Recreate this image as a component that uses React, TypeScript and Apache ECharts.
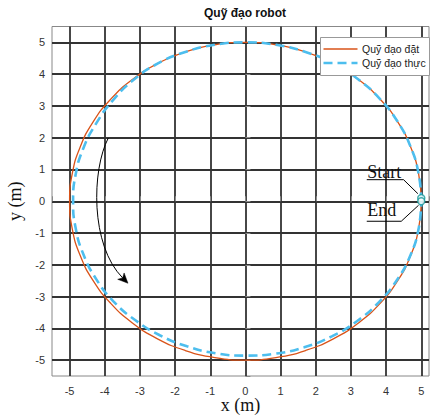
import React, { useEffect, useRef } from "react";
import * as echarts from "echarts";

// Reference trajectory ("Quỹ đạo đặt"), read every 10°
const refX = [5, 4.924, 4.698, 4.33, 3.83, 3.214, 2.5, 1.71, 0.868, 0, -0.868, -1.71, -2.5, -3.214, -3.83, -4.33, -4.698, -4.924, -5, -4.924, -4.698, -4.33, -3.83, -3.214, -2.5, -1.71, -0.868, 0, 0.868, 1.71, 2.5, 3.214, 3.83, 4.33, 4.698, 4.924, 5];
const refY = [0, 0.868, 1.71, 2.5, 3.214, 3.83, 4.33, 4.698, 4.924, 5, 4.924, 4.698, 4.33, 3.83, 3.214, 2.5, 1.71, 0.868, 0, -0.868, -1.71, -2.5, -3.214, -3.83, -4.33, -4.698, -4.924, -5, -4.924, -4.698, -4.33, -3.83, -3.214, -2.5, -1.71, -0.868, 0];

// Actual trajectory ("Quỹ đạo thực")
const actX = [5, 4.924, 4.698, 4.33, 3.83, 3.214, 2.5, 1.71, 0.868, 0, -0.868, -1.71, -2.5, -3.195, -3.776, -4.243, -4.605, -4.826, -4.9, -4.826, -4.605, -4.243, -3.753, -3.137, -2.435, -1.662, -0.844, 0, 0.845, 1.672, 2.455, 3.169, 3.792, 4.304, 4.689, 4.924, 5];
const actY = [0, 0.868, 1.71, 2.5, 3.214, 3.83, 4.33, 4.698, 4.924, 5, 4.924, 4.698, 4.33, 3.807, 3.169, 2.45, 1.676, 0.851, 0, -0.851, -1.676, -2.45, -3.15, -3.738, -4.217, -4.567, -4.786, -4.86, -4.796, -4.595, -4.252, -3.776, -3.182, -2.485, -1.707, -0.868, 0];

const startPoint = [5, 0.1];
const endPoint = [5, 0];

const seriesNames = ["Quỹ đạo đặt", "Quỹ đạo thực"];
const titleText = "Quỹ đạo robot";
const xName = "x (m)";
const yName = "y (m)";
const startLabel = "Start";
const endLabel = "End";

const zip = (xs: number[], ys: number[]) => xs.map((x, i) => [x, ys[i]]);

const SANS = "Liberation Sans, Arial, sans-serif";
const SERIF = "Liberation Serif, Times New Roman, serif";
const REF_COLOR = "#D95319";
const ACT_COLOR = "#4DBEEE";
const ACT_DASH = [9, 5];

export default function App() {
  const ref = useRef<HTMLDivElement>(null);
  useEffect(() => {
    if (!ref.current) return;
    const chart = echarts.init(ref.current, undefined, { renderer: "svg" });
    const axisCommon = {
      type: "value" as const,
      axisLine: { show: false },
      axisTick: { show: true, inside: true, length: 5, lineStyle: { color: "#888" } },
      axisLabel: {
        fontFamily: SANS,
        fontSize: 11,
        color: "#333",
        formatter: (v: number) => (Math.abs(v - Math.round(v)) < 1e-6 ? String(Math.round(v)) : ""),
      },
      splitLine: { show: true, showMinLine: false, showMaxLine: false, lineStyle: { color: "#333", width: 1.8 } },
      nameLocation: "middle" as const,
      nameTextStyle: { fontFamily: SERIF, fontSize: 18, color: "#111" },
    };
    chart.setOption({
      animation: false,
      backgroundColor: "#fff",
      grid: {
        left: 52,
        right: 7,
        top: 26.5,
        bottom: 41,
        show: true,
        borderColor: "#888",
        borderWidth: 1,
        backgroundColor: "#fff",
        containLabel: false,
        outerBoundsMode: "none",
      },
      xAxis: {
        ...axisCommon,
        min: -5.5,
        max: 5.22,
        splitNumber: 10,
        name: xName,
        nameGap: 20,
        nameMoveOverlap: false,
        axisLabel: { ...axisCommon.axisLabel, margin: 9 },
      },
      yAxis: { ...axisCommon, min: -5.5, max: 5.5, splitNumber: 11, name: yName, nameGap: 26, axisLabel: { ...axisCommon.axisLabel, margin: 7 } },
      series: [
        {
          name: seriesNames[0],
          type: "line",
          data: zip(refX, refY),
          smooth: true,
          showSymbol: false,
          symbol: "none",
          lineStyle: { color: REF_COLOR, width: 1.3 },
          itemStyle: { color: REF_COLOR },
        },
        {
          name: seriesNames[1],
          type: "line",
          data: zip(actX, actY),
          smooth: true,
          showSymbol: false,
          symbol: "none",
          lineStyle: { color: ACT_COLOR, width: 2.6, type: ACT_DASH },
          itemStyle: { color: ACT_COLOR },
        },
        {
          name: "points",
          type: "scatter",
          data: [startPoint, endPoint],
          symbol: "circle",
          symbolSize: 7,
          itemStyle: { color: "#fff", borderColor: "#17999a", borderWidth: 1.5 },
          z: 5,
        },
      ],
    });

    const toPx = (p: number[]) => chart.convertToPixel({ gridIndex: 0 }, p) as number[];
    const S = toPx(startPoint);
    const E = toPx(endPoint);
    const a0 = toPx([-3.9, 1.99]);
    const a1 = toPx([-4.37, 0.99]);
    const a2 = toPx([-4.42, -1.38]);
    const a3 = toPx([-3.34, -2.58]);
    let dx = a3[0] - a2[0];
    let dy = a3[1] - a2[1];
    const dl = Math.hypot(dx, dy);
    dx /= dl;
    dy /= dl;
    const L = 10;
    const W = 4.5;
    const bx = a3[0] - dx * L;
    const by = a3[1] - dy * L;
    const nx = -dy;
    const ny = dx;
    const notch = [a3[0] - dx * L * 0.75, a3[1] - dy * L * 0.75];

    const lineStyle = { stroke: "#000", lineWidth: 1, fill: "none" };
    const lg = { x: 320.5, y: 37.5, w: 109, h: 38 };
    chart.setOption({
      graphic: [
        {
          type: "text",
          x: 245,
          y: 7,
          style: { text: titleText, font: `bold 12px ${SANS}`, fill: "#111", align: "center", verticalAlign: "top" },
        },
        {
          type: "bezierCurve",
          shape: { x1: a0[0], y1: a0[1], cpx1: a1[0], cpy1: a1[1], cpx2: a2[0], cpy2: a2[1], x2: notch[0], y2: notch[1] },
          style: lineStyle,
          z: 10,
        },
        {
          type: "polygon",
          shape: { points: [[a3[0], a3[1]], [bx + nx * W, by + ny * W], notch, [bx - nx * W, by - ny * W]] },
          style: { fill: "#000", stroke: "#000", lineWidth: 0.5 },
          z: 10,
        },
        {
          type: "text",
          x: S[0] - 54,
          y: S[1] - 26,
          style: { text: startLabel, font: `18px ${SERIF}`, fill: "#111", align: "left", verticalAlign: "middle" },
          z: 10,
        },
        {
          type: "polyline",
          shape: { points: [[S[0] - 54.5, S[1] - 18.4], [S[0] - 17.7, S[1] - 18.4], [S[0] - 3.4, S[1] - 4.4]] },
          style: lineStyle,
          z: 10,
        },
        {
          type: "text",
          x: E[0] - 54,
          y: E[1] + 9,
          style: { text: endLabel, font: `18px ${SERIF}`, fill: "#111", align: "left", verticalAlign: "middle" },
          z: 10,
        },
        {
          type: "polyline",
          shape: { points: [[E[0] - 54.5, E[1] + 20], [E[0] - 20, E[1] + 20], [E[0] - 2.7, E[1] + 4]] },
          style: lineStyle,
          z: 10,
        },
        // legend box
        {
          type: "rect",
          shape: { x: lg.x, y: lg.y, width: lg.w, height: lg.h },
          style: { fill: "#fff", stroke: "#999", lineWidth: 1 },
          z: 20,
        },
        {
          type: "line",
          shape: { x1: lg.x + 3, y1: lg.y + 11.5, x2: lg.x + 37, y2: lg.y + 11.5 },
          style: { stroke: REF_COLOR, lineWidth: 1.3 },
          z: 21,
        },
        {
          type: "text",
          x: lg.x + 41.5,
          y: lg.y + 11.5,
          style: { text: seriesNames[0], font: `10.5px ${SANS}`, fill: "#222", align: "left", verticalAlign: "middle" },
          z: 21,
        },
        {
          type: "line",
          shape: { x1: lg.x + 3, y1: lg.y + 25.5, x2: lg.x + 37, y2: lg.y + 25.5 },
          style: { stroke: ACT_COLOR, lineWidth: 2.6, lineDash: ACT_DASH },
          z: 21,
        },
        {
          type: "text",
          x: lg.x + 41.5,
          y: lg.y + 25.5,
          style: { text: seriesNames[1], font: `10.5px ${SANS}`, fill: "#222", align: "left", verticalAlign: "middle" },
          z: 21,
        },
      ],
    });
    return () => chart.dispose();
  }, []);
  return <div ref={ref} style={{ position: "fixed", left: 0, top: 0, width: 436, height: 417 }} />;
}
